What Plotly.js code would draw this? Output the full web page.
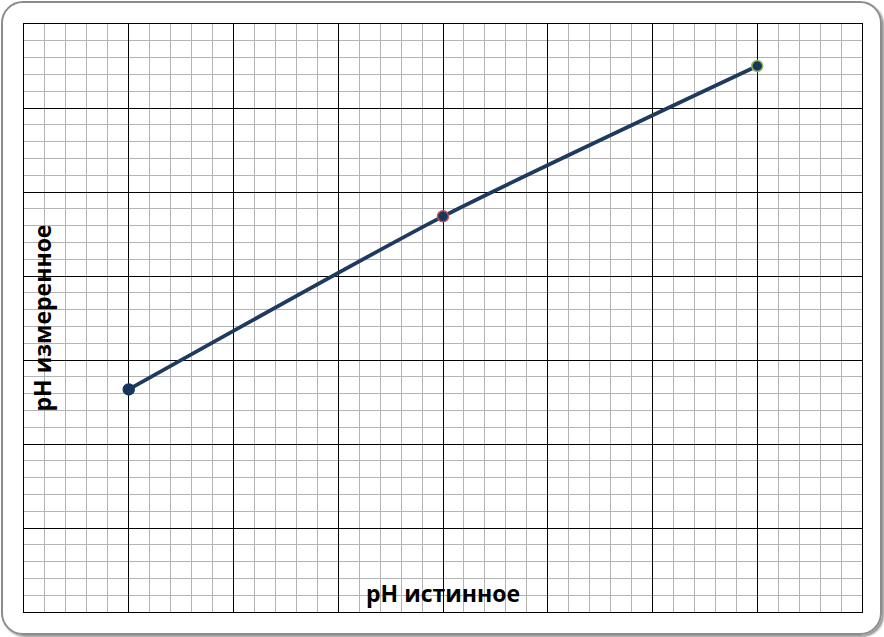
<!DOCTYPE html>
<html>
<head>
<meta charset="utf-8">
<script src="https://cdn.plot.ly/plotly-3.0.1.min.js"></script>
<style>
html,body{margin:0;padding:0;background:#fff;}
#wrap{position:absolute;left:0;top:0;width:884px;height:637px;}
#frame{position:absolute;left:1px;top:1px;width:877px;height:630px;border:2px solid #8c8c8c;border-radius:22px;box-shadow:2px 2px 2px #9a9a9a;pointer-events:none;z-index:2;}
#chart{position:absolute;left:0;top:0;width:884px;height:637px;}
</style>
</head>
<body>
<div id="wrap">
<div id="chart"></div>
<div id="frame"></div>
</div>
<script>
// pH values (true vs measured)
const phTrue = [4, 7, 10];
const phMeasured = [4.65, 6.71, 8.5];
const markerEdges = ['#17375E', '#C0504D', '#9BBB59'];
const xTitle = 'pH истинное';
const yTitle = 'pH измеренное';

const trace = {
  x: phTrue,
  y: phMeasured,
  mode: 'lines+markers',
  type: 'scatter',
  line: {color: '#1F3A5F', width: 3.8, shape: 'spline', smoothing: 0.6},
  marker: {size: 11, color: '#17375E', line: {color: markerEdges, width: 1.5}},
  hoverinfo: 'none'
};

const axisBase = {
  showticklabels: false,
  ticks: '',
  zeroline: false,
  showline: true,
  linecolor: '#000',
  linewidth: 1,
  mirror: true,
  showgrid: true,
  gridcolor: '#000',
  gridwidth: 1,
  fixedrange: true
};

const layout = {
  width: 884,
  height: 637,
  margin: {l: 24, r: 22, t: 24, b: 25},
  paper_bgcolor: '#fff',
  plot_bgcolor: '#fff',
  showlegend: false,
  xaxis: Object.assign({}, axisBase, {
    range: [3, 11], dtick: 1, tick0: 3,
    minor: {dtick: 0.2, tick0: 3, showgrid: true, gridcolor: '#b3b3b3', gridwidth: 1}
  }),
  yaxis: Object.assign({}, axisBase, {
    range: [2, 9], dtick: 1, tick0: 2,
    minor: {dtick: 0.2, tick0: 2, showgrid: true, gridcolor: '#b3b3b3', gridwidth: 1}
  }),
  annotations: [
    {text: '<b>' + xTitle + '</b>', xref: 'paper', yref: 'paper', x: 0.5, y: 0.033,
     xanchor: 'center', yanchor: 'middle', showarrow: false,
     font: {family: 'Open Sans, Liberation Sans, Arial, sans-serif', size: 23, color: '#000'}},
    {text: '<b>' + yTitle + '</b>', xref: 'paper', yref: 'paper', x: 0.022, y: 0.50,
     xanchor: 'center', yanchor: 'middle', showarrow: false, textangle: -90,
     font: {family: 'Open Sans, Liberation Sans, Arial, sans-serif', size: 23, color: '#000'}}
  ]
};

Plotly.newPlot('chart', [trace], layout, {displayModeBar: false, staticPlot: true});
</script>
</body>
</html>
